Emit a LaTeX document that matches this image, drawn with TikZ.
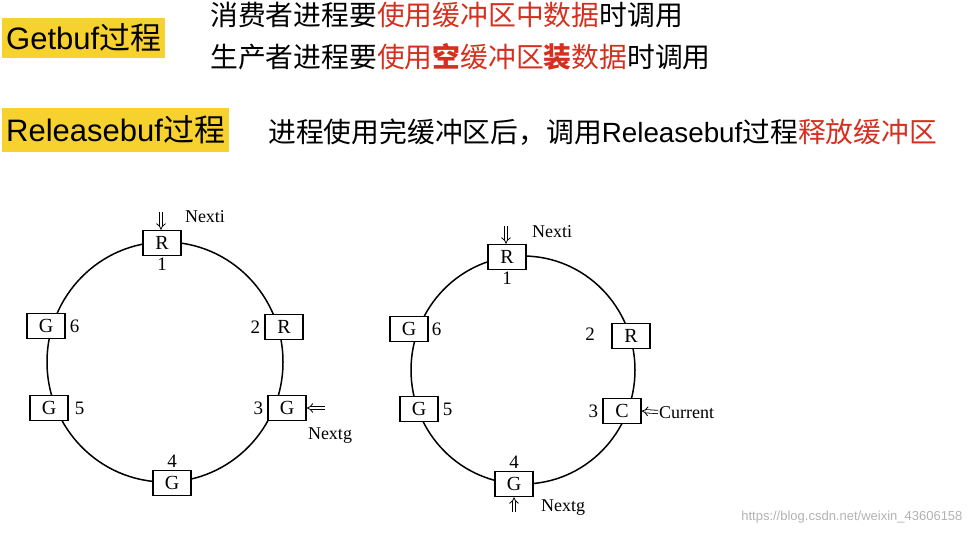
\documentclass[tikz,border=0pt]{standalone}
\usepackage{fontspec}
\setmainfont{Liberation Serif}
\newfontfamily\hdfont{Liberation Sans}
\newfontfamily\cjk{Noto Sans CJK SC}
\usetikzlibrary{arrows.meta,positioning}
\definecolor{hlyellow}{HTML}{F7D12E}
\definecolor{hlred}{HTML}{D5301F}
\tikzset{
	buf/.style={draw, line width=1.5pt, fill=white, minimum width=38pt, minimum height=25pt, inner sep=0pt, font=\fontsize{20}{20}\selectfont},
	num/.style={font=\fontsize{19}{19}\selectfont, inner sep=1pt},
	lbl/.style={font=\fontsize{18}{18}\selectfont, inner sep=1pt},
	ptr/.style={double, double distance=2.5pt, line width=0.8pt, -{Implies}},
	title/.style={fill=hlyellow, font=\hdfont\fontsize{31}{31}\selectfont, inner sep=4pt, anchor=west},
	txt/.style={font=\cjk\fontsize{27.8}{28}\selectfont, anchor=west, inner sep=0pt}
}
\newcommand{\rd}[1]{\textcolor{hlred}{#1}}
\begin{document}
\begin{tikzpicture}[x=1pt, y=-1pt]
	\useasboundingbox (0,0) rectangle (974,536);
	% header
	\node[title, minimum height=40pt] (getbuf) at (2,38) {Getbuf{\cjk 过程}};
	\node[txt] (use1) at (210,15) {消费者进程要\rd{使用缓冲区中数据}时调用};
	\node[txt] (use2) at (210,57) {生产者进程要\rd{使用\textbf{空}缓冲区\textbf{装}数据}时调用};
	\node[title, minimum height=44pt] (relbuf) at (2,130) {Releasebuf{\cjk 过程}};
	\node[txt] (use3) at (268,132) {进程使用完缓冲区后，调用{\hdfont Releasebuf}过程\rd{释放缓冲区}};
	% left ring
	\draw[line width=1.5pt] (165,362) ellipse (118pt and 120pt);
	\node[buf] (a1) at (162,243) {R};
	\node[buf] (a2) at (284,327) {R};
	\node[buf] (a3) at (287,408) {G};
	\node[buf] (a4) at (172,483) {G};
	\node[buf] (a5) at (49,408) {G};
	\node[buf] (a6) at (46,326) {G};
	\node[num, below=1pt of a1] (an1) {1};
	\node[num, left=3pt of a2] (an2) {2};
	\node[num, left=3pt of a3] (an3) {3};
	\node[num, above=1pt of a4] (an4) {4};
	\node[num, right=5pt of a5] (an5) {5};
	\node[num, right=3pt of a6] (an6) {6};
	\coordinate (ai) at (161,212);
	\coordinate (ag) at (325,408);
	\draw[ptr] (ai) -- (a1.north -| ai);
	\draw[ptr] (ag) -- (a3.east);
	\node[lbl] (anexti) at (205,217) {Nexti};
	\node[lbl] (anextg) at (330,436) {Nextg};
	% right ring
	\draw[line width=1.5pt] (523,370) ellipse (112pt and 114pt);
	\node[buf] (b1) at (507,257) {R};
	\node[buf] (b2) at (631,336) {R};
	\node[buf] (b3) at (622,411) {C};
	\node[buf] (b4) at (514,484) {G};
	\node[buf] (b5) at (419,409) {G};
	\node[buf] (b6) at (409,329) {G};
	\node[num, below=1pt of b1] (bn1) {1};
	\node[num] (bn2) at (590,334) {2};
	\node[num, left=3pt of b3] (bn3) {3};
	\node[num, above=1pt of b4] (bn4) {4};
	\node[num, right=3pt of b5] (bn5) {5};
	\node[num, right=2pt of b6] (bn6) {6};
	\coordinate (bi) at (506,226);
	\coordinate (bc) at (658,412);
	\coordinate (bg) at (514,512);
	\draw[ptr] (bi) -- (b1.north -| bi);
	\draw[ptr] (bc) -- (b3.east);
	\draw[ptr] (bg) -- (b4.south);
	\node[lbl] (bnexti) at (552,232) {Nexti};
	\node[lbl, anchor=west] (bcur) at (658,413) {Current};
	\node[lbl] (bnextg) at (563,508) {Nextg};
	% watermark
	\node[font=\hdfont\fontsize{13}{13}\selectfont, text=black!30, anchor=east] (mark) at (966,517) {https://blog.csdn.net/weixin\_43606158};
\end{tikzpicture}
\end{document}
